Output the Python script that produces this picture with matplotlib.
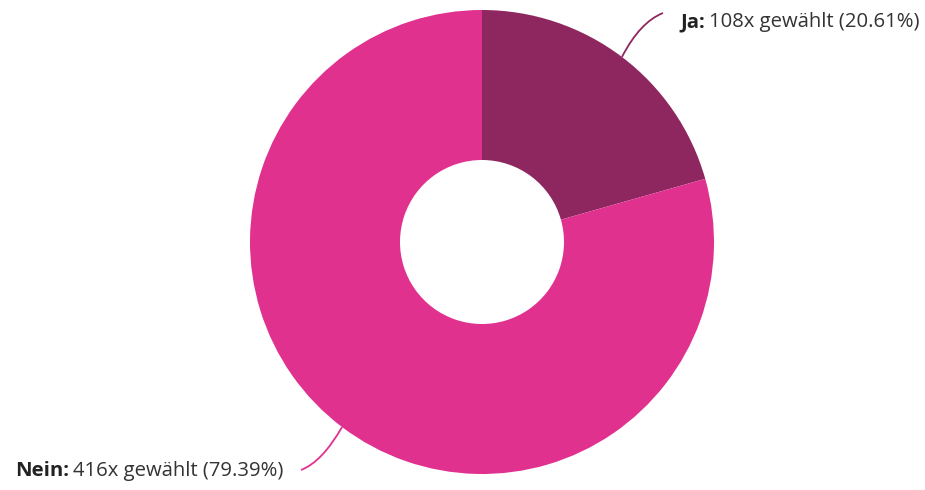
import numpy as np
import matplotlib.pyplot as plt
from matplotlib.path import Path
from matplotlib.patches import PathPatch

labels = ["Ja", "Nein"]
counts = [108, 416]
percents = ["20.61%", "79.39%"]
colors = ["#8e2760", "#e1318f"]

W, H = 925, 490
fig = plt.figure(figsize=(W / 100, H / 100), dpi=100)
ax = fig.add_axes([0, 0, 1, 1])

cx, cy, r_out, r_in = 482, H - 242, 232, 82
wedges, _ = ax.pie(counts, colors=colors, startangle=90, counterclock=False,
                   radius=r_out, center=(cx, cy),
                   wedgeprops=dict(width=r_out - r_in, linewidth=0))
ax.set_xlim(0, W)
ax.set_ylim(0, H)
ax.set_aspect("equal")
ax.axis("off")

font = "Open Sans"
fs = 14.6
renderer = fig.canvas.get_renderer()

# label anchors: leader end point, text left/baseline, leader control point
layout = {
    "Ja": dict(end=(663, H - 13), text=(680, H - 27), ctrl=(640, H - 22)),
    "Nein": dict(end=(301, H - 470), text=(15, H - 476), ctrl=(322, H - 462)),
}

for w, lab, n, pct in zip(wedges, labels, counts, percents):
    mid = np.deg2rad((w.theta1 + w.theta2) / 2)
    sx, sy = cx + r_out * np.cos(mid), cy + r_out * np.sin(mid)
    L = layout[lab]
    path = Path([(sx, sy), L["ctrl"], L["end"]],
                [Path.MOVETO, Path.CURVE3, Path.CURVE3])
    ax.add_patch(PathPatch(path, fill=False, edgecolor=w.get_facecolor(), lw=1.3))
    tx, ty = L["text"]
    t1 = ax.text(tx, ty, f"{lab}:", fontsize=fs, fontweight="bold", family=font,
                 color="#222222", va="baseline", ha="left")
    bb = t1.get_window_extent(renderer)
    x2 = ax.transData.inverted().transform((bb.x1, bb.y0))[0]
    ax.text(x2 + 4, ty, f"{n}x gewählt ({pct})", fontsize=fs, family=font,
            color="#333333", va="baseline", ha="left")

fig.savefig("out.png", dpi=100, facecolor="white")
